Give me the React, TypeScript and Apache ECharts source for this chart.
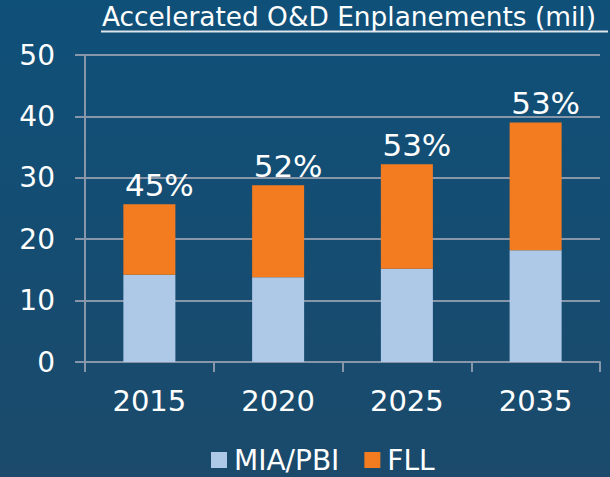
import React, { useEffect, useRef } from "react";
import * as echarts from "echarts";

const categories = ["2015", "2020", "2025", "2035"];
const miaPbi = [14.2, 13.8, 15.2, 18.2];
const fll = [11.5, 15.0, 17.0, 20.8];
const pctLabels = ["45%", "52%", "53%", "53%"];
const yTicks = { min: 0, max: 50, interval: 10 };
const titleText = "Accelerated O&D Enplanements (mil)";

const FONT = "DejaVu Sans";

export default function App() {
  const ref = useRef<HTMLDivElement>(null);
  useEffect(() => {
    if (!ref.current) return;
    const chart = echarts.init(ref.current, null, { renderer: "svg" });

    const titleFont = "27px 'DejaVu Sans Condensed'";
    let scaleX = 1;
    try {
      const ctx = document.createElement("canvas").getContext("2d");
      if (ctx) {
        ctx.font = titleFont;
        const w = ctx.measureText(titleText).width;
        if (w > 0) scaleX = 494 / w;
      }
    } catch (e) {}

    chart.setOption({
      animation: false,
      backgroundColor: {
        type: "linear",
        x: 0,
        y: 0,
        x2: 0,
        y2: 1,
        colorStops: [
          { offset: 0, color: "#0f5079" },
          { offset: 1, color: "#1b4a6b" },
        ],
      },
      textStyle: { fontFamily: FONT },
      grid: { left: 85, right: 10, top: 55, bottom: 115, containLabel: false },
      graphic: [
        {
          type: "text",
          x: 102,
          y: 3,
          scaleX: scaleX,
          style: {
            text: titleText,
            fill: "#ffffff",
            font: titleFont,
            verticalAlign: "top",
            align: "left",
          },
        },
        {
          type: "line",
          shape: { x1: 101, y1: 31.5, x2: 608, y2: 31.5 },
          style: { stroke: "#dde4ec", lineWidth: 2 },
        },
      ],
      legend: {
        left: 206,
        top: 441,
        itemWidth: 16,
        itemHeight: 16,
        itemGap: 25,
        icon: "rect",
        textStyle: { color: "#ffffff", fontSize: 28, fontFamily: FONT, padding: [0, 0, 0, 2] },
        data: ["MIA/PBI", "FLL"],
      },
      xAxis: {
        type: "category",
        data: categories,
        axisLine: { lineStyle: { color: "#8796a8", width: 2 } },
        axisTick: { show: true, length: 10, lineStyle: { color: "#8796a8", width: 2 } },
        axisLabel: { color: "#ffffff", fontSize: 29, fontFamily: FONT, margin: 24 },
      },
      yAxis: {
        type: "value",
        min: yTicks.min,
        max: yTicks.max,
        interval: yTicks.interval,
        axisLine: { show: true, lineStyle: { color: "#8796a8", width: 2 } },
        axisTick: { show: true, length: 10, lineStyle: { color: "#8796a8", width: 2 } },
        splitLine: { show: true, lineStyle: { color: "#8796a8", width: 2 } },
        axisLabel: { color: "#ffffff", fontSize: 28, fontFamily: FONT, margin: 30 },
      },
      series: [
        {
          name: "MIA/PBI",
          type: "bar",
          stack: "total",
          barWidth: 52,
          data: miaPbi,
          itemStyle: { color: "#aec8e8" },
        },
        {
          name: "FLL",
          type: "bar",
          stack: "total",
          barWidth: 52,
          data: fll,
          itemStyle: { color: "#f47c20" },
          label: {
            show: true,
            position: "top",
            distance: 4,
            offset: [10, 0],
            color: "#ffffff",
            fontSize: 31,
            fontFamily: FONT,
            formatter: (p: any) => pctLabels[p.dataIndex],
          },
        },
      ],
    });
    return () => chart.dispose();
  }, []);
  return (
    <div
      ref={ref}
      style={{ position: "fixed", left: 0, top: 0, width: 610, height: 477 }}
    />
  );
}
